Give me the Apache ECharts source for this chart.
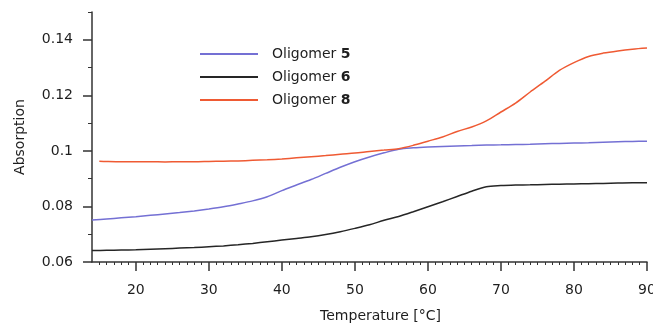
<!DOCTYPE html>
<html>
<head>
<meta charset="utf-8">
<script src="https://cdn.jsdelivr.net/npm/echarts@6/dist/echarts.min.js"></script>
<style>html,body{margin:0;padding:0;background:#fff;}#c{width:653px;height:329px;}</style>
</head>
<body>
<div id="c"></div>
<script>
var temps = [14,16,18,20,22,24,26,28,30,32,34,36,38,40,42,44,46,48,50,52,54,56,58,60,62,64,66,68,70,72,74,76,78,80,82,84,86,88,90];
var oligomer5 = [0.0751,0.0755,0.0759,0.0763,0.0768,0.0773,0.0778,0.0784,0.0791,0.0799,0.0809,0.0820,0.0835,0.0857,0.0877,0.0897,0.0919,0.0941,0.0961,0.0978,0.0993,0.1006,0.1011,0.1014,0.1016,0.1018,0.1019,0.1021,0.1022,0.1023,0.1024,0.1026,0.1027,0.1028,0.1029,0.1031,0.1033,0.1034,0.1035];
var oligomer6 = [0.0641,0.0642,0.0643,0.0644,0.0646,0.0648,0.0650,0.0652,0.0655,0.0658,0.0662,0.0667,0.0673,0.0679,0.0685,0.0691,0.0699,0.0709,0.0721,0.0734,0.0750,0.0764,0.0781,0.0799,0.0817,0.0836,0.0855,0.0871,0.0875,0.0877,0.0878,0.0879,0.0880,0.0881,0.0882,0.0883,0.0884,0.0885,0.0885];
var oligomer8 = [null,0.0962,0.0961,0.0961,0.0961,0.0960,0.0961,0.0961,0.0962,0.0963,0.0964,0.0966,0.0968,0.0971,0.0975,0.0979,0.0983,0.0988,0.0992,0.0998,0.1003,0.1008,0.1020,0.1035,0.1050,0.1070,0.1086,0.1108,0.1140,0.1172,0.1212,0.1250,0.1290,0.1318,0.1340,0.1352,0.1360,0.1366,0.1370];
var oligomer8Start = [15, 0.0963];
var seriesNames = ['Oligomer 5','Oligomer 6','Oligomer 8'];
var xMajorTicks = [20,30,40,50,60,70,80,90];
var xMinorTicks = [15,16,17,18,19,21,22,23,24,25,26,27,28,29,31,32,33,34,35,36,37,38,39,41,42,43,44,45,46,47,48,49,51,52,53,54,55,56,57,58,59,61,62,63,64,65,66,67,68,69,71,72,73,74,75,76,77,78,79,81,82,83,84,85,86,87,88,89];
var yMajorTicks = [0.06,0.08,0.10,0.12,0.14];
var yMinorTicks = [0.07,0.09,0.11,0.13,0.15];
var yLabels = ['0.06','0.08','0.1','0.12','0.14'];

function pairs(vals){ return temps.map(function(t,i){ return [t, vals[i]]; }).filter(function(p){ return p[1] !== null; }); }
var FONT = '"DejaVu Sans", sans-serif';
var AX = '#333';
var TXT = '#1e1e1e';
var chart = echarts.init(document.getElementById('c'), null, {renderer:'canvas'});
var colors = ['#7470d4','#262626','#ef5a33'];
var seriesData = [pairs(oligomer5), pairs(oligomer6), [oligomer8Start].concat(pairs(oligomer8))];
chart.setOption({
  animation:false,
  grid:{left:92, right:6, top:12, bottom:67, containLabel:false, outerBoundsMode:'none'},
  legend:{
    orient:'vertical', left:195, top:42, itemWidth:58, itemHeight:2, itemGap:9,
    icon:'rect',
    data:seriesNames,
    formatter:function(n){ var p=n.split(' '); return p[0]+' {b|'+p[1]+'}'; },
    textStyle:{fontFamily:FONT, fontSize:14, color:TXT, padding:[0,0,0,9],
      rich:{b:{fontFamily:FONT, fontSize:14, fontWeight:'bold', color:TXT}}}
  },
  xAxis:[{
    type:'value', min:14, max:90,
    name:'Temperature [°C]', nameLocation:'middle', nameGap:47,
    nameTextStyle:{fontFamily:FONT, fontSize:14, color:TXT, padding:[0,0,0,22]},
    axisLine:{show:true, lineStyle:{color:AX, width:1.5}},
    axisTick:{show:true, customValues:xMajorTicks, length:9, lineStyle:{color:AX, width:1.5}},
    axisLabel:{customValues:xMajorTicks, margin:21, fontFamily:FONT, fontSize:14, color:TXT},
    splitLine:{show:false}
  },{
    type:'value', min:14, max:90, position:'bottom', gridIndex:0,
    axisLine:{show:false},
    axisTick:{show:true, customValues:xMinorTicks, length:3, lineStyle:{color:AX, width:1}},
    axisLabel:{show:false}, splitLine:{show:false}
  }],
  yAxis:[{
    type:'value', min:0.06, max:0.15,
    name:'Absorption', nameLocation:'middle', nameGap:65,
    nameTextStyle:{fontFamily:FONT, fontSize:14, color:TXT},
    axisLine:{show:true, lineStyle:{color:AX, width:1.5}},
    axisTick:{show:true, customValues:yMajorTicks, length:9, lineStyle:{color:AX, width:1.5}},
    axisLabel:{customValues:yMajorTicks, margin:19, fontFamily:FONT, fontSize:14, color:TXT,
      formatter:function(v){ var i=yMajorTicks.findIndex(function(t){return Math.abs(t-v)<1e-9;}); return i>=0?yLabels[i]:''; }},
    splitLine:{show:false}
  },{
    type:'value', min:0.06, max:0.15, position:'left', gridIndex:0,
    axisLine:{show:false},
    axisTick:{show:true, customValues:yMinorTicks, length:4, lineStyle:{color:AX, width:1}},
    axisLabel:{show:false}, splitLine:{show:false}
  }],
  series:seriesNames.map(function(n,i){
    return {name:n, type:'line', xAxisIndex:0, yAxisIndex:0, data:seriesData[i],
      showSymbol:false, symbol:'none', smooth:0.3, color:colors[i],
      lineStyle:{color:colors[i], width:1.5}};
  })
});
</script>
</body>
</html>
